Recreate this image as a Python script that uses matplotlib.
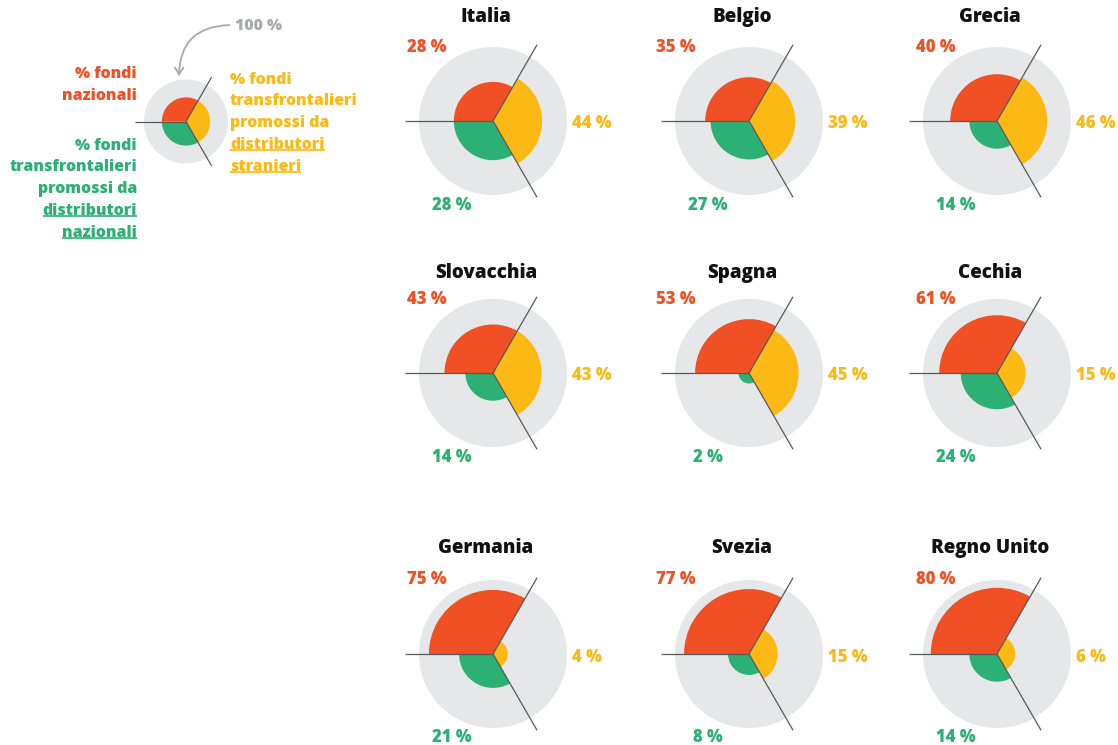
import numpy as np
import matplotlib
matplotlib.use("Agg")
import matplotlib.pyplot as plt
from matplotlib.patches import Wedge, Circle, FancyArrowPatch

# ---------------- data ----------------
countries = ["Italia", "Belgio", "Grecia",
             "Slovacchia", "Spagna", "Cechia",
             "Germania", "Svezia", "Regno Unito"]
nazionali = [28, 35, 40, 43, 53, 61, 75, 77, 80]          # % fondi nazionali (red)
stranieri = [44, 39, 46, 43, 45, 15, 4, 15, 6]            # distributori stranieri (yellow)
distr_naz = [28, 27, 14, 14, 2, 24, 21, 8, 14]            # distributori nazionali (green)
legend_values = [33, 33, 33]

RED = "#F05023"
YEL = "#FDB913"
GRN = "#2CB074"
GREY_BG = "#E6E7E8"
LINE = "#58595B"
GREY_TXT = "#A7A9AC"

W, H = 1118, 745
fig = plt.figure(figsize=(W / 100, H / 100), dpi=100)
ax = fig.add_axes([0, 0, 1, 1])
ax.set_xlim(0, W)
ax.set_ylim(0, H)
ax.axis("off")

FONT = "Open Sans"
WT = 800
Y = lambda y: H - y  # pixel-from-top to data


def glyph(cx, cy, R, vals, line_k):
    cyd = Y(cy)
    ax.add_patch(Circle((cx, cyd), R, color=GREY_BG, lw=0, zorder=1))
    r_red, r_yel, r_grn = [R * np.sqrt(v / 100.0) for v in vals]
    ax.add_patch(Wedge((cx, cyd), r_red, 60, 180, color=RED, lw=0, zorder=2))
    ax.add_patch(Wedge((cx, cyd), r_yel, -60, 60, color=YEL, lw=0, zorder=2))
    ax.add_patch(Wedge((cx, cyd), r_grn, 180, 300, color=GRN, lw=0, zorder=2))
    L = R * line_k
    for ang in (60, 180, 300):
        a = np.deg2rad(ang)
        ax.plot([cx, cx + L * np.cos(a)], [cyd, cyd + L * np.sin(a)],
                color=LINE, lw=0.9, zorder=3, solid_capstyle="butt")


col_x = [493, 749, 997]
row_y = [121, 373, 654]
title_y = [17, 273, 548]
red_lbl_x = [427, 676, 936]
R = 74

for i, name in enumerate(countries):
    r, c = divmod(i, 3)
    cx, cy = col_x[c], row_y[r]
    glyph(cx, cy, R, [nazionali[i], stranieri[i], distr_naz[i]], 1.19)
    ax.text(cx - 7, Y(title_y[r]), name, ha="center", va="center",
            fontsize=13.5, fontweight=WT, family=FONT, color="#111111")
    ax.text(red_lbl_x[c], Y(cy - 74), f"{nazionali[i]} %", ha="center", va="center",
            fontsize=12, fontweight=WT, family=FONT, color=RED)
    ax.text(cx + 79, Y(cy + 3), f"{stranieri[i]} %", ha="left", va="center",
            fontsize=12, fontweight=WT, family=FONT, color=YEL)
    ax.text(cx - 41, Y(cy + 84), f"{distr_naz[i]} %", ha="center", va="center",
            fontsize=12, fontweight=WT, family=FONT, color=GRN)

# ---------------- legend glyph ----------------
glyph(186, 121.5, 42, legend_values, 1.22)

legend_fs = 11.4
underlined = []
red_lines = ["% fondi", "nazionali"]
for txt, yy in zip(red_lines, [74, 96]):
    ax.text(137, Y(yy), txt, ha="right", va="center", fontsize=legend_fs,
            fontweight=WT, family=FONT, color=RED)
grn_lines = ["% fondi", "transfrontalieri", "promossi da", "distributori", "nazionali"]
for k, (txt, yy) in enumerate(zip(grn_lines, [146, 167, 189, 211, 233])):
    t = ax.text(137, Y(yy), txt, ha="right", va="center", fontsize=legend_fs,
                fontweight=WT, family=FONT, color=GRN)
    if k >= 3:
        underlined.append((t, GRN))
yel_lines = ["% fondi", "transfrontalieri", "promossi da", "distributori", "stranieri"]
for k, (txt, yy) in enumerate(zip(yel_lines, [80, 101, 123, 145, 167])):
    t = ax.text(230, Y(yy), txt, ha="left", va="center", fontsize=legend_fs,
                fontweight=WT, family=FONT, color=YEL)
    if k >= 3:
        underlined.append((t, YEL))

ax.text(235, Y(26), "100 %", ha="left", va="center", fontsize=legend_fs,
        fontweight=WT, family=FONT, color=GREY_TXT)
arrow = FancyArrowPatch((232, Y(25)), (179, Y(79)),
                        connectionstyle="arc3,rad=0.5",
                        arrowstyle="->,head_length=5,head_width=3",
                        color=GREY_TXT, lw=1.3, zorder=4)
ax.add_patch(arrow)

fig.canvas.draw()
renderer = fig.canvas.get_renderer()
inv = ax.transData.inverted()
for t, col in underlined:
    bb = t.get_window_extent(renderer)
    (x0, y0), (x1, y1) = inv.transform([(bb.x0, bb.y0), (bb.x1, bb.y1)])
    uy = y0 + 3.0
    ax.plot([x0, x1], [uy, uy], color=col, lw=1.2, solid_capstyle="butt")

fig.savefig("out.png", dpi=100)
